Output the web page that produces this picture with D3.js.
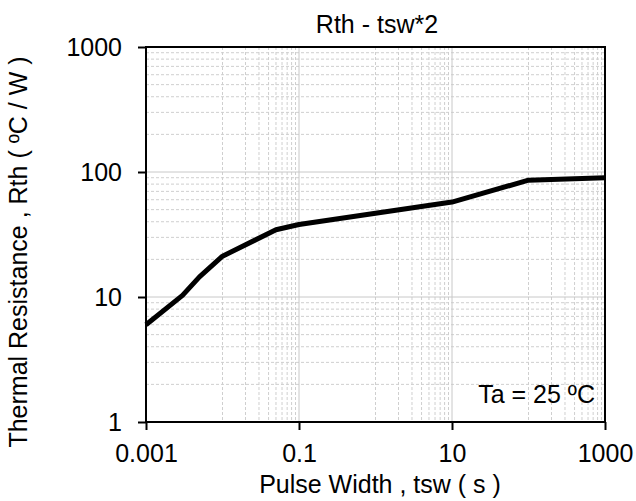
<!DOCTYPE html>
<html>
<head>
<meta charset="utf-8">
<script src="https://cdn.jsdelivr.net/npm/d3@7"></script>
<style>
    body { margin: 0; background: #fff; }
    text { font-family: 'Liberation Sans', Arial, sans-serif; fill: #000; }
</style>
</head>
<body>
<div id="chart"></div>
<script>
// dati
const tsw = [0.001, 0.003, 0.005, 0.01, 0.05, 0.1, 10, 100, 1000];
const rth = [6.0, 10.3, 14.5, 21.2, 34.5, 38, 57.5, 86, 90];

const xTicks = [0.001, 0.1, 10, 1000];
const xTickLabels = ['0.001', '0.1', '10', '1000'];
const yTicks = [1, 10, 100, 1000];
const yTickLabels = ['1', '10', '100', '1000'];

const xMinor = [0.01, 0.02, 0.03, 0.04, 0.05, 0.06, 0.07, 0.08, 0.09,
    1, 2, 3, 4, 5, 6, 7, 8, 9,
    100, 200, 300, 400, 500, 600, 700, 800, 900];
const yMinor = [2, 3, 4, 5, 6, 7, 8, 9,
    20, 30, 40, 50, 60, 70, 80, 90,
    200, 300, 400, 500, 600, 700, 800, 900];

const W = 636, H = 501;
const margin = { top: 47, right: 31, bottom: 79, left: 146 },
    width = W - margin.left - margin.right,
    height = H - margin.top - margin.bottom;

const svg = d3.select('#chart')
    .append('svg')
    .attr('width', W)
    .attr('height', H);

const g = svg.append('g')
    .attr('transform', `translate(${margin.left}, ${margin.top})`);

// scale logaritmiche
const x = d3.scaleLog().domain([0.001, 1000]).range([0, width]);
const y = d3.scaleLog().domain([1, 1000]).range([height, 0]);

// griglia secondaria (tratteggiata)
g.append('g').selectAll('line')
    .data(xMinor)
    .join('line')
    .attr('x1', d => x(d)).attr('x2', d => x(d))
    .attr('y1', 0).attr('y2', height)
    .attr('stroke', '#cfcfcf')
    .attr('stroke-width', 1)
    .attr('stroke-dasharray', '3,2');

g.append('g').selectAll('line')
    .data(yMinor)
    .join('line')
    .attr('x1', 0).attr('x2', width)
    .attr('y1', d => y(d)).attr('y2', d => y(d))
    .attr('stroke', '#cfcfcf')
    .attr('stroke-width', 1)
    .attr('stroke-dasharray', '3,2');

// griglia principale
g.append('g').selectAll('line')
    .data(xTicks)
    .join('line')
    .attr('x1', d => x(d)).attr('x2', d => x(d))
    .attr('y1', 0).attr('y2', height)
    .attr('stroke', '#c8c8c8')
    .attr('stroke-width', 1);

g.append('g').selectAll('line')
    .data(yTicks)
    .join('line')
    .attr('x1', 0).attr('x2', width)
    .attr('y1', d => y(d)).attr('y2', d => y(d))
    .attr('stroke', '#c8c8c8')
    .attr('stroke-width', 1);

// curva Rth
const pts = tsw.map((t, i) => [t, rth[i]]);
const line = d3.line()
    .x(d => x(d[0]))
    .y(d => y(d[1]));

g.append('path')
    .datum(pts)
    .attr('d', line)
    .attr('fill', 'none')
    .attr('stroke', '#000')
    .attr('stroke-width', 5)
    .attr('stroke-linejoin', 'round');

// bordo area grafico
g.append('rect')
    .attr('x', 0).attr('y', 0)
    .attr('width', width).attr('height', height)
    .attr('fill', 'none')
    .attr('stroke', '#000')
    .attr('stroke-width', 2);

// asse x
const xAxis = g.append('g')
    .attr('transform', `translate(0, ${height})`)
    .call(d3.axisBottom(x)
        .tickValues(xTicks)
        .tickFormat((d, i) => xTickLabels[i])
        .tickSize(8)
        .tickPadding(14));
xAxis.select('.domain').remove();
xAxis.selectAll('line').attr('stroke', '#000').attr('stroke-width', 2);
xAxis.selectAll('text')
    .style('font-family', "'Liberation Sans', Arial, sans-serif")
    .style('font-size', '25px')
    .attr('fill', '#000');

// asse y
const yAxis = g.append('g')
    .call(d3.axisLeft(y)
        .tickValues(yTicks)
        .tickFormat((d, i) => yTickLabels[i])
        .tickSize(8)
        .tickPadding(16));
yAxis.select('.domain').remove();
yAxis.selectAll('line').attr('stroke', '#000').attr('stroke-width', 2);
yAxis.selectAll('text')
    .style('font-family', "'Liberation Sans', Arial, sans-serif")
    .style('font-size', '25px')
    .attr('fill', '#000');

// titolo
svg.append('text')
    .attr('x', 377)
    .attr('y', 33)
    .attr('text-anchor', 'middle')
    .style('font-size', '25px')
    .text('Rth - tsw*2');

// etichetta asse x
svg.append('text')
    .attr('x', 380)
    .attr('y', 493)
    .attr('text-anchor', 'middle')
    .style('font-size', '25px')
    .text('Pulse Width , tsw ( s )');

// etichetta asse y
svg.append('text')
    .attr('transform', 'translate(27, 252) rotate(-90)')
    .attr('text-anchor', 'middle')
    .style('font-size', '25px')
    .text('Thermal Resistance , Rth ( ºC / W )');

// annotazione temperatura
g.append('text')
    .attr('x', width - 10)
    .attr('y', height - 19)
    .attr('text-anchor', 'end')
    .style('font-size', '25px')
    .text('Ta = 25 ºC');
</script>
</body>
</html>
